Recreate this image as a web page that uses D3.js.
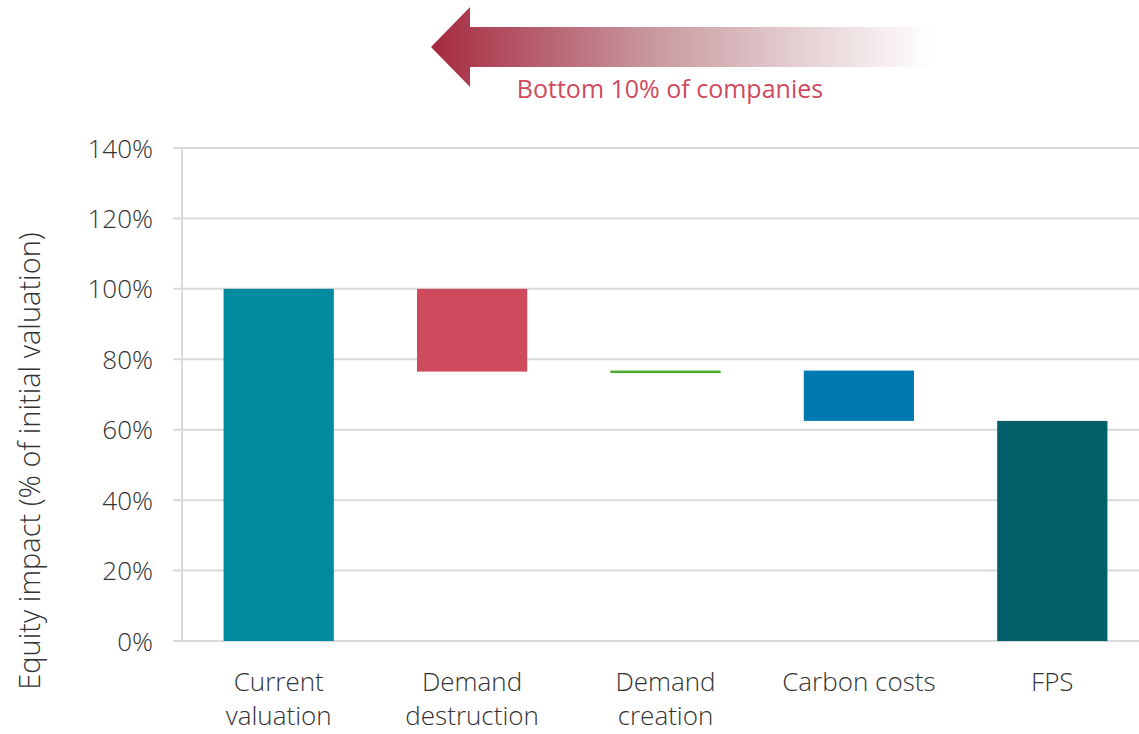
<!DOCTYPE html>
<html>
<head>
<meta charset="utf-8">
<script src="https://cdn.jsdelivr.net/npm/d3@7"></script>
<style>
  body { margin: 0; background: #fff; }
  svg text { font-family: "Open Sans", "Noto Sans", sans-serif; }
</style>
</head>
<body>
<div id="chart"></div>
<script>
// waterfall data, % of initial valuation
const categories = ["Current valuation", "Demand destruction", "Demand creation", "Carbon costs", "FPS"];
const labelLines = [["Current", "valuation"], ["Demand", "destruction"], ["Demand", "creation"], ["Carbon costs"], ["FPS"]];
const starts = [0, 76.5, 76.5, 76.8, 0];
const ends = [100, 100, 76.8, 62.5, 62.5];
const colors = ["#008c9e", "#d04a5e", "#4aac2c", "#0079b0", "#005f68"];
const yTicks = [0, 20, 40, 60, 80, 100, 120, 140];

const width = 1139, height = 734;
const x0 = 182, yBottom = 641, yTop = 148;

const svg = d3.select("#chart")
  .append("svg")
  .attr("width", width)
  .attr("height", height);

const scaleX = d3.scaleBand()
  .domain(categories)
  .range([x0, x0 + 967])
  .paddingInner(0.43)
  .paddingOuter(0.215);

const scaleY = d3.scaleLinear()
  .domain([0, 140])
  .range([yBottom, yTop]);

// gridlines
svg.append("g")
  .selectAll("line")
  .data(yTicks)
  .join("line")
  .attr("x1", x0 - 9)
  .attr("x2", width)
  .attr("y1", d => scaleY(d))
  .attr("y2", d => scaleY(d))
  .style("stroke", "#d9d9d9")
  .style("stroke-width", "2px");

// y axis line
svg.append("line")
  .attr("x1", x0).attr("x2", x0)
  .attr("y1", yTop).attr("y2", yBottom)
  .style("stroke", "#d9d9d9")
  .style("stroke-width", "2px");

const yAxis = d3.axisLeft(scaleY)
  .tickValues(yTicks)
  .tickSize(0)
  .tickPadding(29)
  .tickFormat(d => d + "%");

const ya = svg.append("g")
  .attr("transform", `translate(${x0},0)`)
  .call(yAxis);
ya.select(".domain").remove();
ya.selectAll("text")
  .style("font-size", "26px")
  .style("font-weight", 300)
  .style("fill", "#333")
  .attr("dy", "0.35em");

// bars
svg.append("g")
  .selectAll("rect")
  .data(categories)
  .join("rect")
  .attr("x", d => scaleX(d))
  .attr("width", scaleX.bandwidth())
  .attr("y", (d, i) => scaleY(Math.max(starts[i], ends[i])))
  .attr("height", (d, i) => Math.max(2.5, Math.abs(scaleY(starts[i]) - scaleY(ends[i]))))
  .style("fill", (d, i) => colors[i]);

// category labels
const lab = svg.append("g")
  .selectAll("text")
  .data(categories)
  .join("text")
  .attr("x", d => scaleX(d) + scaleX.bandwidth() / 2)
  .attr("y", 691)
  .attr("text-anchor", "middle")
  .style("font-size", "26px")
  .style("font-weight", 300)
  .style("fill", "#333");
lab.selectAll("tspan")
  .data((d, i) => labelLines[i])
  .join("tspan")
  .attr("x", function() { return d3.select(this.parentNode).attr("x"); })
  .attr("dy", (d, j) => j === 0 ? 0 : "34px")
  .text(d => d);

// y axis title
svg.append("text")
  .attr("transform", "translate(40,461) rotate(-90)")
  .attr("text-anchor", "middle")
  .style("font-size", "29px")
  .style("font-weight", 300)
  .style("fill", "#333")
  .text("Equity impact (% of initial valuation)");

// gradient arrow
const defs = svg.append("defs");
const grad = defs.append("linearGradient")
  .attr("id", "arrowGrad")
  .attr("x1", "0%").attr("x2", "100%");
grad.append("stop").attr("offset", "0%").attr("stop-color", "#a52a40");
grad.append("stop").attr("offset", "45%").attr("stop-color", "#c99aa0");
grad.append("stop").attr("offset", "100%").attr("stop-color", "#ffffff");

const arrow = d3.path();
arrow.moveTo(431, 47);
arrow.lineTo(470, 7);
arrow.lineTo(470, 27);
arrow.lineTo(932, 27);
arrow.lineTo(932, 67);
arrow.lineTo(470, 67);
arrow.lineTo(470, 87);
arrow.closePath();

svg.append("path")
  .attr("d", arrow.toString())
  .style("fill", "url(#arrowGrad)");

svg.append("text")
  .attr("x", 670)
  .attr("y", 98)
  .attr("text-anchor", "middle")
  .style("font-size", "25px")
  .style("fill", "#d04a5e")
  .text("Bottom 10% of companies");
</script>
</body>
</html>
